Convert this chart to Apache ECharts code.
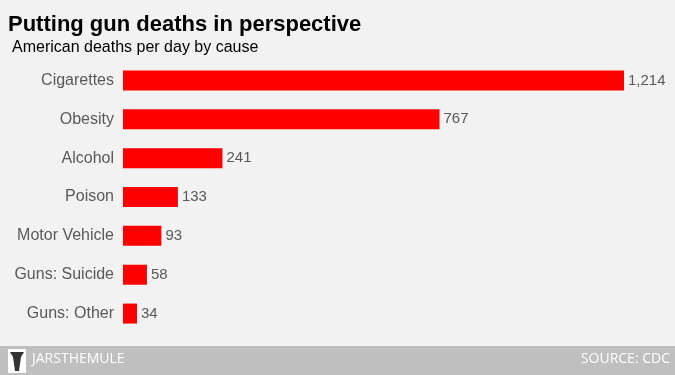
<!DOCTYPE html>
<html>
<head>
<meta charset="utf-8">
<script src="https://cdn.jsdelivr.net/npm/echarts@6/dist/echarts.min.js"></script>
<style>
  html, body { margin: 0; padding: 0; background: #f2f2f2; }
  #main { width: 675px; height: 375px; }
</style>
</head>
<body>
<div id="main"></div>
<script>
// causes, top to bottom
var causes = ['Cigarettes', 'Obesity', 'Alcohol', 'Poison', 'Motor Vehicle', 'Guns: Suicide', 'Guns: Other'];
// deaths per day
var deaths = [1214, 767, 241, 133, 93, 58, 34];

var myChart = echarts.init(document.getElementById('main'));
var option = {
    backgroundColor: '#f2f2f2',
    animation: false,
    grid: { left: 123, right: 51, top: 61, bottom: 42 },
    xAxis: {
        type: 'value',
        min: 0,
        max: 1214,
        show: false
    },
    yAxis: {
        type: 'category',
        inverse: true,
        data: causes,
        axisLine: { show: false },
        axisTick: { show: false },
        axisLabel: {
            color: '#595959',
            fontFamily: 'Liberation Sans',
            fontSize: 16,
            margin: 9
        }
    },
    series: [{
        type: 'bar',
        data: deaths,
        barWidth: 20,
        itemStyle: { color: '#ff0000' },
        label: {
            show: true,
            position: 'right',
            distance: 4,
            color: '#595959',
            fontFamily: 'Liberation Sans',
            fontSize: 15,
            formatter: function (p) {
                return p.value.toLocaleString('en-US');
            }
        }
    }],
    graphic: [
        {
            type: 'text', left: 8, top: 14,
            style: { text: 'Putting gun deaths in perspective', fill: '#000', font: 'bold 22px "Liberation Sans"' }
        },
        {
            type: 'text', left: 12, top: 40,
            style: { text: 'American deaths per day by cause', fill: '#000', font: '16px "Liberation Sans"' }
        },
        {
            type: 'rect', left: 0, top: 346,
            shape: { width: 675, height: 29 },
            style: { fill: '#bfbfbf' }
        },
        {
            type: 'rect', left: 8, top: 349,
            shape: { width: 18, height: 24 },
            style: { fill: '#ffffff' }
        },
        {
            type: 'polygon',
            shape: { points: [[10, 352], [24, 352], [21, 357], [19, 371], [15, 371], [13, 357]] },
            style: { fill: '#333333' }
        },
        {
            type: 'text', left: 32, top: 352,
            style: { text: 'JARSTHEMULE', fill: '#ffffff', font: '14px "Open Sans"' }
        },
        {
            type: 'text', right: 5, top: 352,
            style: { text: 'SOURCE: CDC', fill: '#ffffff', font: '14px "Open Sans"' }
        }
    ]
};
myChart.setOption(option);
</script>
</body>
</html>
